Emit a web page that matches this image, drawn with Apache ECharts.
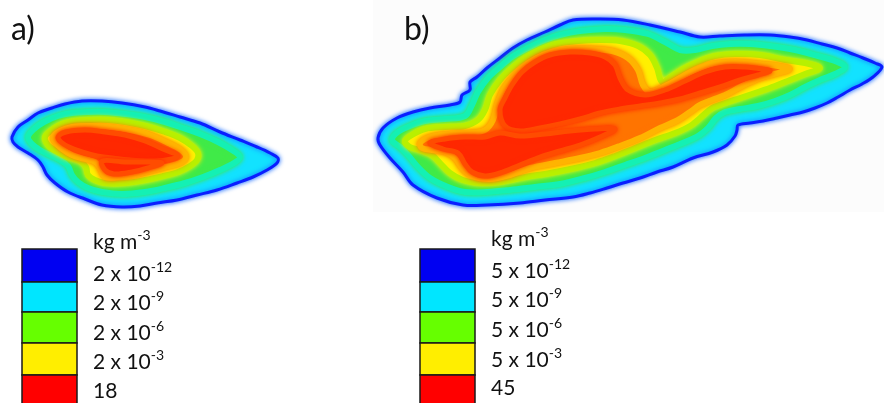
<!DOCTYPE html>
<html><head><meta charset="utf-8">
<script src="https://cdn.jsdelivr.net/npm/echarts@6/dist/echarts.min.js"></script>
<style>html,body{margin:0;padding:0;background:#fff}#c{width:884px;height:403px}</style>
</head><body><div id="c"></div>
<script>
// ---- Contour outlines (figure units: x right, y down) ----
// Panel a
const aEdge = [[12,137],[18,127],[28,120],[38,113],[52,108],[65,104],[82,101],[102,101],[122,103],[145,107],[160,111],[180,117],[200,123],[220,132],[240,140],[257,147],[270,153],[278,158],[277,163],[267,170],[253,177],[237,183],[217,190],[197,195],[177,200],[157,203],[140,206],[122,207],[102,205],[85,199],[68,192],[55,183],[47,175],[43,167],[38,160],[28,153],[18,147],[13,142]];
const aGreen = [[28,137],[34,129],[44,122],[58,116],[72,113],[88,112],[105,112],[125,114],[145,117],[165,122],[180,127],[200,134],[218,142],[232,150],[240,157],[234,163],[220,170],[203,177],[185,183],[165,188],[145,192],[122,194],[102,192],[88,188],[78,182],[72,175],[68,166],[60,160],[50,155],[40,150],[32,144]];
const aYellow = [[45,137],[52,130],[62,124],[75,121],[90,120],[108,120],[125,122],[145,126],[165,132],[180,138],[192,146],[198,153],[197,160],[190,166],[178,172],[163,176],[145,180],[125,183],[105,183],[95,180],[88,175],[86,167],[80,161],[68,157],[56,151],[48,145]];
const aOrange = [[53,137],[60,131],[72,127],[90,126],[110,127],[130,130],[150,135],[168,143],[181,150],[186,157],[180,163],[165,167],[150,171],[135,175],[118,177],[105,177],[100,168],[95,162],[85,159],[72,155],[61,148],[55,142]];
const aRed1 = [[58,137],[66,132],[85,130],[105,132],[125,135],[145,141],[163,149],[178,156],[166,160],[150,161],[130,160],[112,158],[97,156],[82,152],[69,147],[61,142]];
const aRed2 = [[102,161],[125,162],[148,162],[162,163],[148,168],[132,172],[114,174],[105,170]];
// Panel b
const bEdge = [[378,138],[383,128],[397,118],[413,112],[430,108],[450,105],[460,102],[462,95],[470,90],[470,82],[477,77],[487,68],[500,58],[513,48],[527,40],[545,32],[560,25],[573,20],[600,19],[623,20],[650,25],[680,32],[700,37],[720,36],[745,35],[770,35],[790,37],[807,40],[822,44],[837,48],[850,53],[863,58],[875,63],[882,67],[873,77],[862,84],[850,90],[838,97],[827,103],[815,108],[803,112],[790,115],[777,118],[763,121],[750,123],[738,125],[737,130],[735,136],[727,145],[713,152],[693,158],[673,167],[657,172],[640,178],[623,183],[607,188],[590,193],[573,197],[545,200],[520,203],[487,205],[463,205],[437,198],[413,185],[403,172],[390,158],[380,145]];
const bGreen = [[392,140],[398,132],[410,126],[425,121],[445,119],[465,116],[472,105],[478,92],[488,78],[500,67],[512,57],[528,48],[545,40],[560,35],[580,31],[605,29],[625,30],[648,34],[665,42],[680,50],[695,50],[712,46],[730,44],[750,44],[770,46],[795,50],[818,56],[835,61],[845,67],[835,74],[820,80],[805,87],[790,95],[775,101],[758,106],[740,109],[725,112],[716,118],[708,128],[698,136],[685,142],[665,150],[645,158],[625,165],[605,172],[585,178],[560,184],[535,187],[510,190],[487,192],[465,192],[448,187],[430,178],[418,167],[408,155],[400,147]];
const bYellow = [[405,141],[412,135],[425,129],[445,127],[465,126],[478,120],[485,110],[490,95],[500,80],[512,68],[525,58],[540,50],[557,44],[578,41],[600,40],[620,41],[638,46],[650,55],[657,68],[662,82],[672,76],[685,68],[700,61],[715,56],[735,54],[760,55],[785,60],[805,63],[820,68],[805,74],[790,80],[775,86],[758,92],[740,98],[725,103],[712,108],[700,118],[690,126],[675,133],[655,140],[635,148],[615,156],[595,163],[575,168],[550,173],[525,177],[500,182],[480,183],[463,180],[450,173],[440,163],[432,155],[420,150],[410,147]];
const bOrange = [[420,143],[430,137],[450,134],[470,133],[485,130],[493,120],[497,105],[503,90],[512,78],[522,68],[537,58],[552,52],[570,49],[592,49],[612,51],[628,58],[638,70],[643,85],[650,92],[665,86],[680,78],[695,70],[712,64],[735,62],[760,64],[778,66],[790,69],[778,73],[760,78],[742,86],[725,95],[712,100],[700,105],[690,112],[678,120],[660,128],[640,138],[620,146],[600,153],[580,158],[555,163],[530,168],[510,175],[490,179],[472,176],[462,168],[455,158],[445,152],[432,150],[422,148]];
const bRed1 = [[500,110],[505,98],[512,85],[522,72],[535,62],[550,55],[570,52],[590,53],[605,57],[615,65],[620,78],[628,90],[645,95],[665,90],[685,81],[705,72],[725,67],[745,67],[762,69],[770,71],[758,75],[740,80],[720,87],[700,93],[680,99],[660,103],[640,106],[620,109],[600,113],[580,119],[560,124],[540,128],[520,131],[505,126]];
const bRed2 = [[430,143],[445,139],[465,137],[485,137],[500,133],[520,136],[545,134],[570,131],[595,129],[615,129],[600,137],[580,145],[560,151],[540,157],[520,165],[500,173],[485,176],[472,172],[465,164],[458,153],[443,149]];

// ---- Legend values ----
const unitLabel = ['kg m', '-3'];
const legendColors = ['#0000f2', '#00e6ff', '#66ff00', '#ffee00', '#ff0000'];
const legendA = [['2 x 10', '-12'], ['2 x 10', '-9'], ['2 x 10', '-6'], ['2 x 10', '-3'], ['18', '']];
const legendB = [['5 x 10', '-12'], ['5 x 10', '-9'], ['5 x 10', '-6'], ['5 x 10', '-3'], ['45', '']];
const panelLabels = ['a)', 'b)'];

// ---- Level styles ----
const lvl = {
  edge:   {fill: '#12e2ff', stroke: '#0a1eff', lw: 3, blur: 5, shadow: '#1a6cff'},
  green:  {fill: '#40ea48', stroke: '#14f0b4', lw: 6, blur: 5},
  yellow: {fill: '#fff000', stroke: '#b8f000', lw: 6, blur: 5},
  orange: {fill: '#ff7400', stroke: '#ffb400', lw: 6, blur: 5},
  red:    {fill: '#ff2800', stroke: '#ff4c00', lw: 5, blur: 5}
};
const layers = [
  [aEdge, 'edge'], [aGreen, 'green'], [aYellow, 'yellow'], [aOrange, 'orange'], [aRed1, 'red'], [aRed2, 'red'],
  [bEdge, 'edge'], [bGreen, 'green'], [bYellow, 'yellow'], [bOrange, 'orange'], [bRed1, 'red'], [bRed2, 'red']
];

const chart = echarts.init(document.getElementById('c'), null, {renderer: 'canvas'});
const FONT = 'Lato, "Open Sans", sans-serif';

function legendGraphics(x0, textX, labels, textYs, headY) {
  const g = [];
  const tops = [249, 282, 312, 343, 375];
  const hs = [33, 30, 31, 32, 34];
  for (let i = 0; i < 5; i++) {
    g.push({type: 'rect', shape: {x: x0, y: tops[i], width: 55, height: hs[i]},
      style: {fill: legendColors[i], stroke: '#1a1a1a', lineWidth: 1.5}, z: 5});
  }
  const rich = {b: {fontSize: 21, fontFamily: FONT, fill: '#111', lineHeight: 28, verticalAlign: 'middle'},
                s: {fontSize: 14, fontFamily: FONT, fill: '#111', lineHeight: 14, verticalAlign: 'top'}};
  g.push({type: 'text', x: textX, y: headY, z: 6, style: {
    text: '{b|' + unitLabel[0] + '}{s|' + unitLabel[1] + '}', align: 'left', verticalAlign: 'middle', rich: rich}});
  for (let i = 0; i < labels.length; i++) {
    const t = '{b|' + labels[i][0] + '}' + (labels[i][1] ? '{s|' + labels[i][1] + '}' : '');
    g.push({type: 'text', x: textX, y: textYs[i], z: 6, style: {
      text: t, align: 'left', verticalAlign: 'middle', rich: rich}});
  }
  return g;
}

const graphics = [
  {type: 'rect', shape: {x: 373, y: 0, width: 511, height: 212}, style: {fill: '#fcfcfc'}, z: -10, silent: true},
  {type: 'text', x: 11, y: 30, z: 6, style: {text: panelLabels[0], fontSize: 32, fontFamily: FONT, fill: '#111', align: 'left', verticalAlign: 'middle'}},
  {type: 'text', x: 404, y: 30, z: 6, style: {text: panelLabels[1], fontSize: 32, fontFamily: FONT, fill: '#111', align: 'left', verticalAlign: 'middle'}}
].concat(
  legendGraphics(22, 93, legendA, [274, 303, 333, 362, 391], 242),
  legendGraphics(420, 491, legendB, [271, 300, 330, 360, 388], 239)
);

chart.setOption({
  animation: false,
  backgroundColor: '#ffffff',
  grid: {left: 0, right: 0, top: 0, bottom: 0},
  xAxis: {type: 'value', min: 0, max: 884, show: false},
  yAxis: {type: 'value', min: 0, max: 403, inverse: true, show: false},
  graphic: graphics,
  series: [{
    type: 'custom',
    silent: true,
    clip: false,
    encode: {x: 0, y: 1},
    data: layers.map((l, i) => [l[0][0][0], l[0][0][1], i]),
    renderItem: function (params, api) {
      const L = layers[api.value(2)];
      const s = lvl[L[1]];
      const pts = L[0].map(p => api.coord(p));
      return {
        type: 'polygon',
        shape: {points: pts, smooth: 0.35},
        style: {fill: s.fill, stroke: s.stroke, lineWidth: s.lw, shadowBlur: s.blur, shadowColor: s.shadow || s.fill}
      };
    }
  }]
});
</script>
</body></html>
